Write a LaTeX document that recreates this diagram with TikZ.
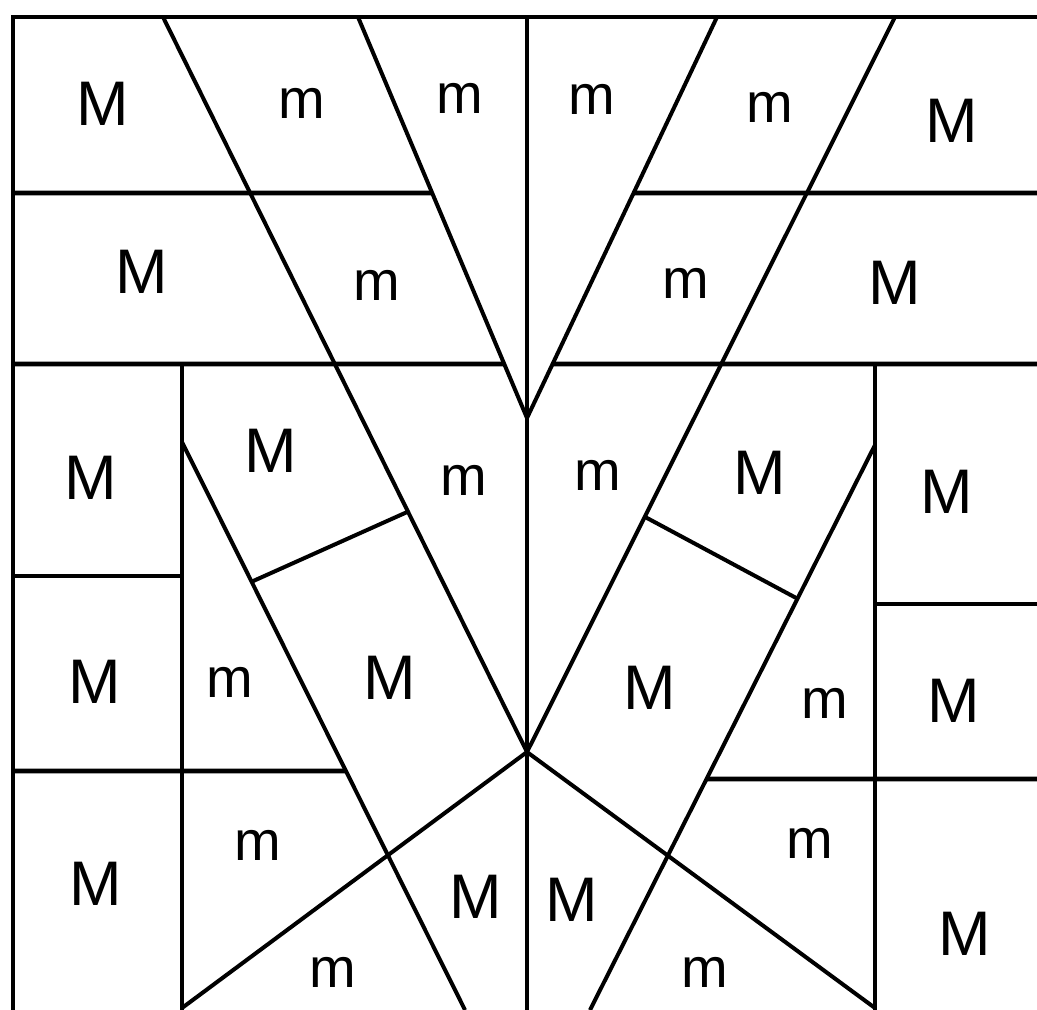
\documentclass[tikz,border=0pt]{standalone}
\usepackage{fontspec}
\setmainfont{Liberation Sans}
\usetikzlibrary{calc}

\tikzset{
  rule/.style={line width=4.8pt},
  slant/.style={line width=4pt},
  bigM/.style={inner sep=0pt, font=\fontsize{63}{63}\selectfont},
  smallm/.style={inner sep=0pt, font=\fontsize{56}{56}\selectfont},
}

\begin{document}
\begin{tikzpicture}[x=1pt, y=-1pt]
  \useasboundingbox[fill=white] (0,0) rectangle (1037,1010);

  % corners of the wedges
  \coordinate (V) at (527,418);
  \coordinate (J) at (527,752);
  \coordinate (a0) at (163,17);
  \coordinate (b0) at (358,17);
  \coordinate (c0) at (717,17);
  \coordinate (d0) at (895,17);
  \coordinate (e0) at (182,442);
  \coordinate (e1) at (465,1010);
  \coordinate (h0) at (875,445);
  \coordinate (h1) at (590,1010);
  \coordinate (fL) at (182,1008);
  \coordinate (gR) at (875,1008);

  % frame and axis
  \draw[rule] (1037,17) -- (13,17) -- (13,1010);
  \draw[rule] (527,17) -- (527,1010);
  \draw[rule] (182,364) -- (182,1010);
  \draw[rule] (875,364) -- (875,1010);

  % horizontal cuts
  \draw[rule] (13,193) -- (intersection of b0--V and 0,193--1037,193);
  \draw[rule] (intersection of c0--V and 0,193--1037,193) -- (1037,193);
  \draw[rule] (13,364) -- (intersection of b0--V and 0,364--1037,364);
  \draw[rule] (intersection of c0--V and 0,364--1037,364) -- (1037,364);
  \draw[rule] (13,576) -- (182,576);
  \draw[rule] (13,771) -- (intersection of e0--e1 and 0,771--1037,771);
  \draw[rule] (875,604) -- (1037,604);
  \draw[rule] (intersection of h0--h1 and 0,779--1037,779) -- (1037,779);

  % slanted cuts
  \draw[slant] (a0) -- (J) -- (d0);
  \draw[slant] (b0) -- (V) -- (c0);
  \draw[slant] (e0) -- (e1);
  \draw[slant] (h0) -- (h1);
  \draw[slant] (fL) -- (J) -- (gR);
  \draw[slant] ($(e0)!0.246!(e1)$) -- ($(a0)!0.673!(J)$);
  \draw[slant] ($(d0)!0.680!(J)$) -- ($(h0)!0.272!(h1)$);

  % labels
  \foreach \x/\y [count=\i] in {103/104, 952/121, 142/272, 895/283,
      91/478, 271/451, 760/473, 947/492,
      95/682, 390/678, 650/688, 954/701,
      96/884, 476/897, 572/900, 965/934}
    \node[bigM] (M\i) at (\x,\y) {M};
  \foreach \x/\y [count=\i] in {302/103, 460/98, 592/99, 770/107,
      377/285, 686/283, 464/480, 598/475,
      230/682, 825/703, 258/845, 333/972, 705/972, 810/843}
    \node[smallm] (m\i) at (\x,\y) {m};
\end{tikzpicture}
\end{document}
